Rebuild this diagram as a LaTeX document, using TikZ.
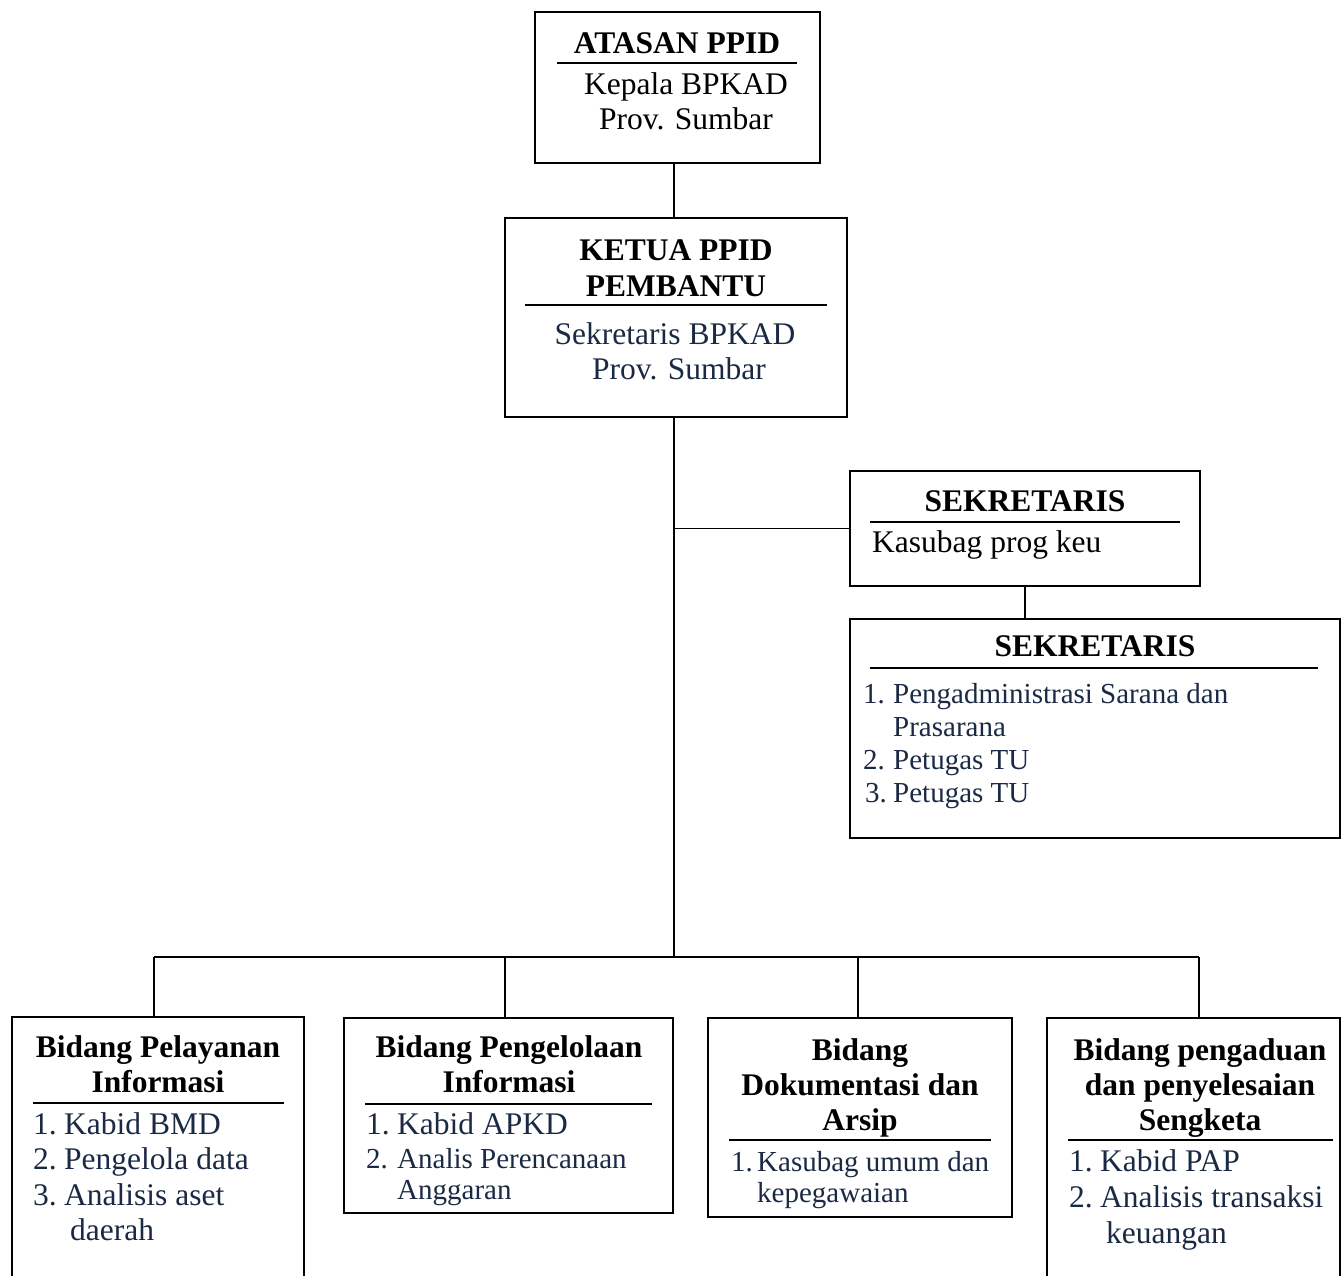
\documentclass[tikz,border=0pt]{standalone}
\usepackage{fontspec}
\setmainfont{Liberation Serif}
\definecolor{navy}{HTML}{1B2A44}
\newcommand\ttlf{\fontsize{31.5}{36}\selectfont\bfseries}
\newcommand\bigf{\fontsize{31.5}{36}\selectfont}
\newcommand\smlf{\fontsize{29}{33}\selectfont}
\begin{document}
\begin{tikzpicture}[x=1pt,y=-1pt,
  box/.style={draw, line width=1.7pt, inner sep=0pt, outer sep=0pt},
  ttl/.style={font=\ttlf, anchor=base, inner sep=0pt},
  ctx/.style={font=\bigf, anchor=base, inner sep=0pt},
  ltx/.style={font=\bigf, anchor=base west, inner sep=0pt, text=navy},
  stx/.style={font=\smlf, anchor=base west, inner sep=0pt, text=navy},
  uline/.style={line width=1.7pt},
  conn/.style={line width=1.7pt}]
\clip (0,0) rectangle (1344,1275);
\fill[white] (0,0) rectangle (1344,1275);

% boxes
\node[box, minimum width=285pt, minimum height=151pt] (atasan) at (677.5,87.5) {};
\node[box, minimum width=342pt, minimum height=199pt] (ketua) at (676,317.5) {};
\node[box, minimum width=350pt, minimum height=115pt] (sek1) at (1025,528.5) {};
\node[box, minimum width=490pt, minimum height=219pt] (sek2) at (1095,728.5) {};
\node[box, minimum width=292pt, minimum height=273pt] (b1) at (158,1153.5) {};
\node[box, minimum width=329pt, minimum height=195pt] (b2) at (508.5,1115.5) {};
\node[box, minimum width=304pt, minimum height=199pt] (b3) at (860,1117.5) {};
\node[box, minimum width=293pt, minimum height=272pt] (b4) at (1193.5,1154) {};

% connectors
\coordinate (trunk) at ([xshift=-2pt]ketua.north);
\coordinate (bus) at (674,957);
\coordinate (d1) at ([xshift=-4pt]b1.north);
\coordinate (d2) at ([xshift=-3.5pt]b2.north);
\coordinate (d3) at ([xshift=-2pt]b3.north);
\coordinate (d4) at ([xshift=5.5pt]b4.north);
\draw[conn] (trunk) -- (trunk |- atasan.south);
\draw[conn] (trunk |- ketua.south) -- (bus);
\draw[conn] (trunk |- sek1.west) -- (sek1.west);
\draw[conn] (sek1.south) -- (sek1.south |- sek2.north);
\draw[conn] (d1 |- bus) -- (d4 |- bus);
\draw[conn] (d1) -- (d1 |- bus);
\draw[conn] (d2) -- (d2 |- bus);
\draw[conn] (d3) -- (d3 |- bus);
\draw[conn] (d4) -- (d4 |- bus);

% underlines
\draw[uline] (557,63) -- (797,63);
\draw[uline] (525,305) -- (827,305);
\draw[uline] (870,522) -- (1180,522);
\draw[uline] (870,668) -- (1318,668);
\draw[uline] (33,1103) -- (284,1103);
\draw[uline] (365,1104) -- (652,1104);
\draw[uline] (729,1140) -- (991,1140);
\draw[uline] (1068,1140) -- (1333,1140);

% atasan
\node[ttl] (t1) at (677,53) {ATASAN PPID};
\node[ctx] (t1a) at (686,94) {Kepala BPKAD};
\node[ctx] (t1b) at (686,129) {Prov. Sumbar};
% ketua
\node[ttl] (t2) at (676,260) {KETUA PPID};
\node[ttl] (t2b) at (676,296) {PEMBANTU};
\node[ctx, text=navy] (t2c) at (675,344) {Sekretaris BPKAD};
\node[ctx, text=navy] (t2d) at (679,379) {Prov. Sumbar};
% sek1
\node[ttl] (t3) at (1025,511) {SEKRETARIS};
\node[ltx, text=black] (t3a) at (872,552) {Kasubag prog keu};
% sek2
\node[ttl] (t4) at (1095,656) {SEKRETARIS};
\node[stx] (t4n1) at (863,703) {1.};
\node[stx] (t4a) at (893,703) {Pengadministrasi Sarana dan};
\node[stx] (t4b) at (893,736) {Prasarana};
\node[stx] (t4n2) at (863,769) {2.};
\node[stx] (t4c) at (893,769) {Petugas TU};
\node[stx] (t4n3) at (865,802) {3.};
\node[stx] (t4d) at (893,802) {Petugas TU};
% b1
\node[ttl] (t5) at (158,1057) {Bidang Pelayanan};
\node[ttl] (t5b) at (158,1092) {Informasi};
\node[ltx] (t5n1) at (33,1134) {1.};
\node[ltx] (t5c) at (64,1134) {Kabid BMD};
\node[ltx] (t5n2) at (33,1169) {2.};
\node[ltx] (t5d) at (64,1169) {Pengelola data};
\node[ltx] (t5n3) at (33,1205) {3.};
\node[ltx] (t5e) at (64,1205) {Analisis aset};
\node[ltx] (t5f) at (70,1240) {daerah};
% b2
\node[ttl] (t6) at (509,1057) {Bidang Pengelolaan};
\node[ttl] (t6b) at (509,1092) {Informasi};
\node[ltx] (t6n1) at (366,1134) {1.};
\node[ltx] (t6c) at (397,1134) {Kabid APKD};
\node[stx] (t6n2) at (366,1168) {2.};
\node[stx] (t6d) at (397,1168) {Analis Perencanaan};
\node[stx] (t6e) at (397,1199) {Anggaran};
% b3
\node[ttl] (t7) at (860,1060) {Bidang};
\node[ttl] (t7b) at (860,1095) {Dokumentasi dan};
\node[ttl] (t7c) at (860,1130) {Arsip};
\node[stx] (t7n1) at (731,1171) {1.};
\node[stx] (t7d) at (757,1171) {Kasubag umum dan};
\node[stx] (t7e) at (757,1202) {kepegawaian};
% b4
\node[ttl] (t8) at (1200,1060) {Bidang pengaduan};
\node[ttl] (t8b) at (1200,1095) {dan penyelesaian};
\node[ttl] (t8c) at (1200,1130) {Sengketa};
\node[ltx] (t8n1) at (1069,1171) {1.};
\node[ltx] (t8d) at (1100,1171) {Kabid PAP};
\node[ltx] (t8n2) at (1069,1207) {2.};
\node[ltx] (t8e) at (1100,1207) {Analisis transaksi};
\node[ltx] (t8f) at (1106,1243) {keuangan};
\end{tikzpicture}
\end{document}
